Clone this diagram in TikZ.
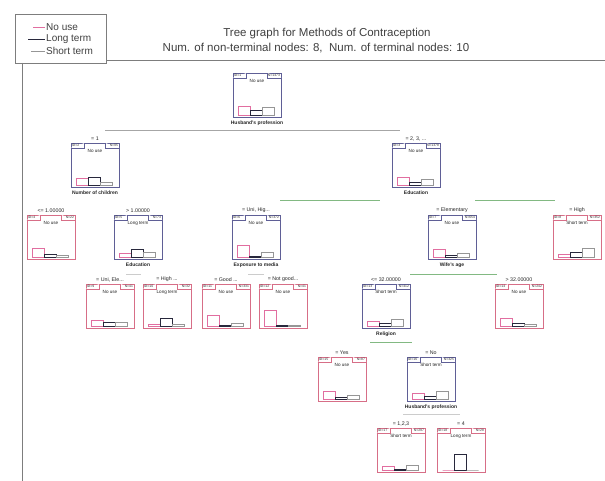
\documentclass[tikz,border=0pt]{standalone}
\usepackage{fontspec}
\setmainfont{Liberation Sans}
\definecolor{ntcol}{RGB}{95,95,150}
\definecolor{tmcol}{RGB}{215,110,135}
\definecolor{nousec}{RGB}{225,110,160}
\definecolor{longc}{RGB}{40,40,60}
\definecolor{shortc}{RGB}{150,150,150}
\definecolor{grl}{RGB}{130,185,130}
\definecolor{frm}{RGB}{125,125,125}
\tikzset{
  boxbase/.style={minimum width=48pt, minimum height=44pt, inner sep=0pt, fill=white, line width=1pt},
  nt/.style={boxbase, draw=ntcol},
  tm/.style={boxbase, draw=tmcol},
  idt/.style={font=\fontsize{3.4}{4}\selectfont, inner sep=0.3pt, text=black!80},
  clt/.style={font=\fontsize{4.6}{5}\selectfont, inner sep=0pt, text=black!85},
  spt/.style={font=\fontsize{5.3}{6}\selectfont, inner sep=0.5pt, text=black!85},
  vart/.style={font=\bfseries\fontsize{5}{6}\selectfont, inner sep=0.5pt, text=black!85},
  legt/.style={font=\fontsize{10}{12}\selectfont, inner sep=1pt, text=black!75},
  titt/.style={font=\fontsize{11.5}{13}\selectfont, inner sep=0pt, text=black!75},
  nousebar/.style={draw=nousec, line width=0.6pt},
  longbar/.style={draw=longc, line width=0.6pt},
  shortbar/.style={draw=shortc, line width=0.6pt},
  rootline/.style={draw=gray!70, line width=1pt},
  greenline/.style={draw=grl, line width=1pt},
  lightline/.style={draw=gray!40, line width=0.8pt}
}
% tree node: name, x, top y, style, ID, N, class, split label
\newcommand\tn[8]{%
  \node[#4, anchor=north] (#1) at (#2,#3) {};
  \draw[#4, line width=0.5pt] ([shift={(0,5)}]#1.north west) -- ++(14,0) -- ++(0,-5);
  \draw[#4, line width=0.5pt] ([shift={(0,5)}]#1.north east) -- ++(-14,0) -- ++(0,-5);
  \node[idt, anchor=north west] (#1-id) at ([shift={(1,0.8)}]#1.north west) {ID=#5};
  \node[idt, anchor=north east] (#1-n) at ([shift={(-1,0.8)}]#1.north east) {N=#6};
  \node[clt, anchor=north] (#1-cl) at ([shift={(0,6)}]#1.north) {#7};
  \node[spt, anchor=south] (#1-sp) at ([shift={(0,-1.5)}]#1.north) {#8};
}
% histogram: name, heights of No use, Long term, Short term
\newcommand\hbars[4]{%
  \draw[nousebar] ([shift={(6,-3)}]#1.south west) rectangle ++(12,-#2);
  \draw[longbar] ([shift={(18,-3)}]#1.south west) rectangle ++(12,-#3);
  \draw[shortbar] ([shift={(30,-3)}]#1.south west) rectangle ++(12,-#4);
}
% split variable label below a node
\newcommand\vlab[2]{%
  \node[vart, anchor=north] (#1-var) at ([shift={(0,2)}]#1.south) {#2};
}
\begin{document}
\begin{tikzpicture}[x=1pt,y=-1pt]
\useasboundingbox (0,0) rectangle (605,481);
\fill[white] (0,0) rectangle (605,481);
% frame and header
\draw[frm, line width=0.8pt] (15,14) rectangle (106,63);
\draw[frm, line width=0.8pt] (106,60) -- (605,60);
\draw[frm, line width=0.8pt] (22,63) -- (22,481);
% legend
\coordinate (lg1) at (45,27);
\coordinate (lg2) at (45,39);
\coordinate (lg3) at (45,51);
\draw[nousec, line width=0.7pt] (33,27) -- (lg1);
\draw[longc, line width=0.9pt] (28,39) -- (lg2);
\draw[shortc, line width=0.6pt] (31,51) -- (lg3);
\node[legt, anchor=west] (lt1) at (lg1) {No use};
\node[legt, anchor=west] (lt2) at (lg2) {Long term};
\node[legt, anchor=west] (lt3) at (lg3) {Short term};
% title
\node[titt] (title1) at (327,34) {Tree graph for Methods of Contraception};
\node[titt] (title2) at (316,48) {Num. of non-terminal nodes: 8,\ \ Num. of terminal nodes: 10};

% level 1
\tn{root}{257}{73}{nt}{1}{1473}{No use}{}
\hbars{root}{9}{5}{8}
\vlab{root}{Husband's profession}
% level 2
\tn{A}{95}{143}{nt}{2}{95}{No use}{= 1}
\hbars{A}{7}{8}{3}
\vlab{A}{Number of children}
\tn{B}{416}{143}{nt}{3}{1378}{No use}{= 2, 3, ...}
\hbars{B}{8}{3}{6}
\vlab{B}{Education}
% level 3
\tn{A1}{51}{215}{tm}{4}{22}{No use}{<= 1.00000}
\hbars{A1}{9}{3}{2}
\tn{A2}{138}{215}{nt}{5}{73}{Long term}{> 1.00000}
\hbars{A2}{4}{8}{5}
\vlab{A2}{Education}
\tn{B1}{256}{215}{nt}{6}{372}{No use}{= Uni, Hig...}
\hbars{B1}{12}{1}{5}
\vlab{B1}{Exposure to media}
\tn{B2}{452}{215}{nt}{7}{654}{No use}{= Elementary}
\hbars{B2}{8}{2}{4}
\vlab{B2}{Wife's age}
\tn{B3}{577}{215}{tm}{8}{352}{Short term}{= High}
\hbars{B3}{3}{5}{9}
% level 4
\tn{A2a}{110}{284}{tm}{9}{41}{No use}{= Uni, Ele...}
\hbars{A2a}{6}{4}{4}
\tn{A2b}{167}{284}{tm}{10}{32}{Long term}{= High ...}
\hbars{A2b}{2}{8}{2}
\tn{B1a}{226}{284}{tm}{11}{331}{No use}{= Good ...}
\hbars{B1a}{11}{1}{3}
\tn{B1b}{283}{284}{tm}{12}{41}{No use}{= Not good...}
\hbars{B1b}{16}{1}{1}
\tn{B2a}{386}{284}{nt}{13}{412}{Short term}{<= 32.00000}
\hbars{B2a}{5}{3}{7}
\vlab{B2a}{Religion}
\tn{B2b}{519}{284}{tm}{14}{242}{No use}{> 32.00000}
\hbars{B2b}{8}{3}{2}
% level 5
\tn{B2a1}{342}{357}{tm}{15}{87}{No use}{= Yes}
\hbars{B2a1}{8}{2}{4}
\tn{B2a2}{431}{357}{nt}{16}{325}{Short term}{= No}
\hbars{B2a2}{6}{3}{8}
\vlab{B2a2}{Husband's profession}
% level 6
\tn{C1}{401}{428}{tm}{17}{297}{Short term}{= 1,2,3}
\hbars{C1}{4}{1}{5}
\tn{C2}{461}{428}{tm}{18}{28}{Long term}{= 4}
\hbars{C2}{0}{16}{0}

% split bars
\draw[rootline] ([shift={(10,-12)}]A.north) -- ([shift={(-16,-12)}]B.north);
\draw[greenline] ([shift={(24,-14)}]B1.north) -- ([shift={(-72,-14)}]B2.north);
\draw[greenline] ([shift={(23,-14)}]B2.north) -- ([shift={(-22,-14)}]B3.north);
\draw[lightline] ([shift={(-12,14)}]A2.south) -- ([shift={(3,14)}]A2.south);
\draw[lightline] ([shift={(-8,14)}]B1.south) -- ([shift={(8,14)}]B1.south);
\draw[greenline] ([shift={(-42,14)}]B2.south) -- ([shift={(45,14)}]B2.south);
\draw[greenline] ([shift={(-16,13)}]B2a.south) -- ([shift={(26,13)}]B2a.south);
\draw[lightline] ([shift={(-28,12)}]B2a2.south) -- ([shift={(29,12)}]B2a2.south);
\end{tikzpicture}
\end{document}
